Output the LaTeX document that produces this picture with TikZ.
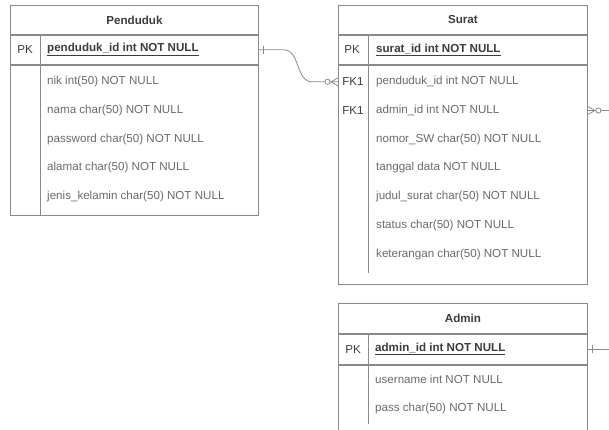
\documentclass[tikz,border=0pt]{standalone}
\usepackage{fontspec}
\setmainfont{Liberation Sans}
\usetikzlibrary{positioning}
\definecolor{linegray}{HTML}{8A8A8A}
\definecolor{titlegray}{HTML}{3C3C3C}
\definecolor{fldgray}{HTML}{6A6A6A}
\begin{document}
\begin{tikzpicture}[x=1pt,y=-1pt,
  font=\fontsize{11.6pt}{14pt}\selectfont,
  tblbox/.style={draw=linegray, line width=0.9pt, minimum width=248pt, inner sep=0pt},
  fld/.style={text=fldgray, anchor=west, inner sep=0pt},
  keylbl/.style={text=titlegray, inner sep=0pt},
  rel/.style={draw=linegray, line width=0.8pt}]

\useasboundingbox (0,0) rectangle (609,430);
\clip (0,0) rectangle (609,430);

% Penduduk
\node[tblbox, minimum height=29pt, anchor=north west, text=titlegray] (pendtitle) at (10,5) {\bfseries Penduduk};
\node[tblbox, minimum height=29pt, below=0pt of pendtitle] (pendpk) {};
\node[tblbox, minimum height=150pt, below=0pt of pendpk] (pendbody) {};
\draw[linegray, line width=0.9pt] ([xshift=30pt]pendpk.north west) -- ([xshift=30pt]pendbody.south west);
\node[keylbl] (pendpkl) at ([xshift=15pt]pendpk.west) {PK};
\node[fld, text=titlegray] (pendpkf) at ([xshift=37pt]pendpk.west) {\bfseries\underline{penduduk\_id int NOT NULL}};
\foreach \f [count=\i] in {nik int(50) NOT NULL, nama char(50) NOT NULL, password char(50) NOT NULL,
    alamat char(50) NOT NULL, jenis\_kelamin char(50) NOT NULL}
  \node[fld] (pendf\i) at ([xshift=37pt,yshift={(-17-28.7*(\i-1))*1pt}]pendbody.north west) {\f};

% Surat
\node[tblbox, minimum height=29pt, anchor=north west, text=titlegray, minimum width=249pt] (surtitle) at (338,5) {\bfseries Surat};
\node[tblbox, minimum height=29pt, minimum width=249pt, below=0pt of surtitle] (surpk) {};
\node[tblbox, minimum height=219pt, minimum width=249pt, below=0pt of surpk] (surbody) {};
\draw[linegray, line width=0.9pt] ([xshift=30pt]surpk.north west) -- ([xshift=30pt,yshift=12pt]surbody.south west);
\node[keylbl] (surpkl) at ([xshift=14pt]surpk.west) {PK};
\node[fld, text=titlegray] (surpkf) at ([xshift=38pt]surpk.west) {\bfseries\underline{surat\_id int NOT NULL}};
\foreach \f [count=\i] in {penduduk\_id int NOT NULL, admin\_id int NOT NULL, nomor\_SW char(50) NOT NULL,
    tanggal data NOT NULL, judul\_surat char(50) NOT NULL, status char(50) NOT NULL,
    keterangan char(50) NOT NULL}
  \node[fld] (surf\i) at ([xshift=38pt,yshift={(-17-28.7*(\i-1))*1pt}]surbody.north west) {\f};
\node[keylbl] (surfk1l) at ([xshift=15pt]surbody.west |- surf1) {FK1};
\node[keylbl] (surfk2l) at ([xshift=15pt]surbody.west |- surf2) {FK1};

% Admin
\node[tblbox, minimum height=30pt, anchor=north west, text=titlegray, minimum width=249pt] (admtitle) at (338,303) {\bfseries Admin};
\node[tblbox, minimum height=30pt, minimum width=249pt, below=0pt of admtitle] (admpk) {};
\node[tblbox, minimum height=80pt, minimum width=249pt, below=0pt of admpk] (admbody) {};
\draw[linegray, line width=0.9pt] ([xshift=30pt]admpk.north west) -- ([xshift=30pt,yshift=-59pt]admpk.south west);
\node[keylbl] (admpkl) at ([xshift=15pt]admpk.west) {PK};
\node[fld, text=titlegray] (admpkf) at ([xshift=37pt]admpk.west) {\bfseries\underline{admin\_id int NOT NULL}};
\foreach \f [count=\i] in {username int NOT NULL, pass char(50) NOT NULL}
  \node[fld] (admf\i) at ([xshift=37pt,yshift={(-15-29*(\i-1))*1pt}]admbody.north west) {\f};

% relations
\coordinate (surfk1) at (surbody.west |- surf1);
\coordinate (surfk2) at (surbody.east |- surf2);

\draw[rel] (pendpk.east) -- ++(25,0) .. controls +(16,0) and +(-16,0) .. ([xshift=-26pt]surfk1) -- (surfk1);
\draw[rel] ([xshift=4pt,yshift=-4pt]pendpk.east) -- ([xshift=4pt,yshift=4pt]pendpk.east);
\draw[rel] ([xshift=-7pt]surfk1) -- ([yshift=4pt]surfk1) ([xshift=-7pt]surfk1) -- ([yshift=-4pt]surfk1);
\draw[rel, fill=white] ([xshift=-10.5pt]surfk1) circle[radius=2.6pt];

\draw[rel] (surfk2) -- ++(40,0) |- (admpk.east);
\draw[rel] ([xshift=7pt]surfk2) -- ([yshift=4pt]surfk2) ([xshift=7pt]surfk2) -- ([yshift=-4pt]surfk2);
\draw[rel, fill=white] ([xshift=10.5pt]surfk2) circle[radius=2.6pt];
\draw[rel] ([xshift=4pt,yshift=-4pt]admpk.east) -- ([xshift=4pt,yshift=4pt]admpk.east);

\end{tikzpicture}
\end{document}
